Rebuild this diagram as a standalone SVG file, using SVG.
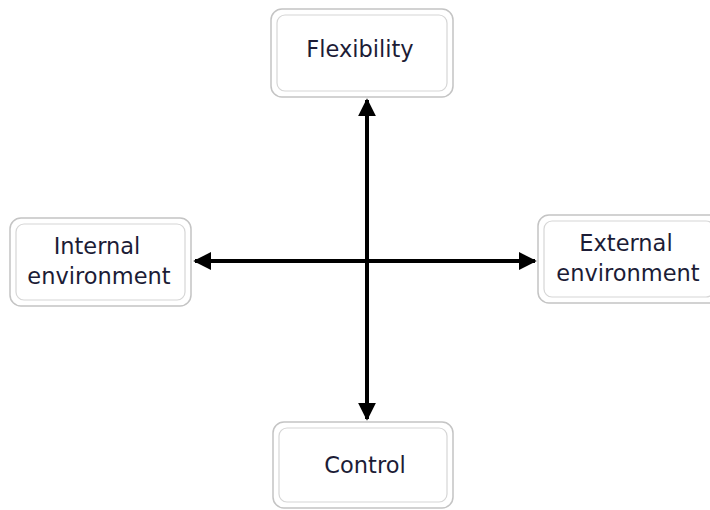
<svg xmlns="http://www.w3.org/2000/svg" width="710" height="510" viewBox="0 0 710 510">
  <style>
    .outer { fill: #ffffff; stroke: #c4c4c4; stroke-width: 1.5; }
    .inner { fill: #ffffff; stroke: #d6d6d6; stroke-width: 1.2; }
    .label { font-family: "DejaVu Sans", Verdana, sans-serif; font-size: 22.5px; fill: #1c1c36; text-anchor: middle; }
    .axis { stroke: #000000; stroke-width: 4; fill: none; }
  </style>
  <defs>
    <marker id="head" viewBox="0 0 10 10" refX="9" refY="5" markerWidth="4.5" markerHeight="4.5" orient="auto-start-reverse" markerUnits="strokeWidth">
      <path d="M0,0 L10,5 L0,10 z" fill="#000000"/>
    </marker>
  </defs>
  <rect width="710" height="510" fill="#ffffff"/>

  <g id="connectors">
    <line class="axis" x1="367" y1="100" x2="367" y2="419" marker-start="url(#head)" marker-end="url(#head)"/>
    <line class="axis" x1="195" y1="261" x2="535" y2="261" marker-start="url(#head)" marker-end="url(#head)"/>
  </g>

  <g id="flexibility">
    <rect class="outer" x="271" y="9" width="182" height="88" rx="11"/>
    <rect class="inner" x="277" y="15" width="170" height="76" rx="8"/>
    <text class="label" x="360" y="57">Flexibility</text>
  </g>

  <g id="internal-environment">
    <rect class="outer" x="10" y="218" width="181" height="88" rx="11"/>
    <rect class="inner" x="16" y="224" width="169" height="76" rx="8"/>
    <text class="label" x="97" y="254">Internal</text>
    <text class="label" x="99" y="284">environment</text>
  </g>

  <g id="external-environment">
    <rect class="outer" x="538" y="215" width="182" height="88" rx="11"/>
    <rect class="inner" x="544" y="221" width="170" height="76" rx="8"/>
    <text class="label" x="626" y="251">External</text>
    <text class="label" x="628" y="281">environment</text>
  </g>

  <g id="control">
    <rect class="outer" x="273" y="422" width="180" height="86" rx="11"/>
    <rect class="inner" x="279" y="428" width="168" height="74" rx="8"/>
    <text class="label" x="365" y="473">Control</text>
  </g>
</svg>
